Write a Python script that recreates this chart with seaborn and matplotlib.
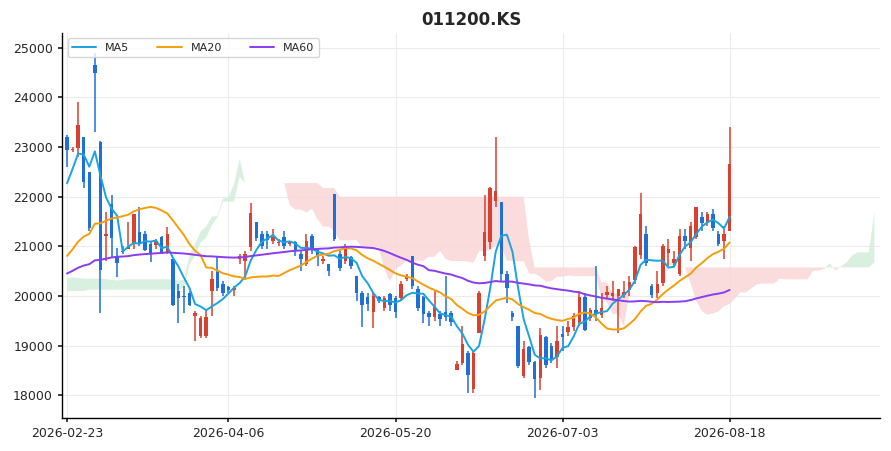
import numpy as np
import pandas as pd
import matplotlib
matplotlib.use("Agg")
import matplotlib.pyplot as plt
import seaborn as sns

# hidden history before the visible window (used only for MAs / Ichimoku)
hist_close = [19800,19700,19650,19750,19850,19700,19600,19750,19850,19900,
 19800,19700,19650,19750,19900,19850,19750,19700,19800,19900,
 19850,19750,19700,19650,19750,19850,19900,19800,19750,19850,
 20550,20500,20450,20400,20350,20450,20500,20550,20450,20400,
 20350,20400,20500,20550,20450,20400,20500,20600,20550,20450,
 20400,20450,20500,20450,20400,20150,20250,20300,20350,20250,
 20200,20300,20350,20250,20300,20400,20350,20250,20200,20300,
 20350,20400,20300,20250,20350,20450,21500,21900,22400,22600]
hist_spread = 250

opens = [23200,22950,22980,23200,22500,24650,23100,21200,21850,20780,
 20920,20950,21060,21290,21250,21050,21020,21190,20860,20740,
 20100,20000,20060,19600,19200,19200,20110,20480,20240,20180,
 20120,20750,20700,20980,21490,21250,21250,21100,21080,21190,
 21050,21080,20840,20640,21200,20920,20700,20640,22050,20840,
 20700,20780,20400,20060,19980,19670,19980,19750,20040,19960,
 19960,20340,20800,20140,19980,19650,19570,19630,19670,19650,
 18510,18650,18850,18120,19250,20800,21080,21910,21890,20440,
 19650,19390,18380,18970,18670,18340,19170,18990,18770,19230,
 19270,19370,19470,19980,19550,19710,19610,20020,20000,20000,
 20020,20120,20320,20820,21250,20200,20060,20260,20860,20660,
 20440,21210,20960,21190,21590,21470,21650,21250,21100,21310]
closes = [22950,22960,23440,22300,21370,24500,20520,21250,21160,20660,
 20900,20990,21650,21060,20920,20860,21100,20860,21250,19810,
 19950,19970,19810,19650,19560,19580,20340,20160,20060,20120,
 20160,20800,20840,21670,21160,21000,21130,21190,21100,21000,
 21080,20920,20740,21100,20920,20780,20750,20500,21150,20560,
 20980,20600,20060,19810,19830,20000,19900,19960,19810,19670,
 20240,20400,20200,19750,19630,19570,19770,19530,19570,19470,
 18630,19030,18400,18850,20060,21290,22170,22110,20440,20160,
 19570,18580,18930,18670,18320,19210,18600,18710,19090,19170,
 19370,19590,19980,19310,19710,19630,19750,20080,20060,20140,
 20080,20280,20980,21650,20660,20020,20240,21000,20940,20740,
 21210,21100,21410,21790,21470,21650,21370,21050,21250,22660]
highs = [23250,23000,23900,23200,22500,24900,23130,21700,22030,20960,
 21000,21500,21650,21800,21300,21100,21150,21200,21390,20740,
 20250,20200,20100,19700,19600,19700,20500,20800,20300,20200,
 20200,20850,20900,21870,21500,21300,21300,21350,21150,21300,
 21100,21100,20900,21250,21250,20950,20800,20650,22050,20900,
 21050,20800,20400,20100,20050,20050,20000,20000,20050,20000,
 20300,20450,20800,20200,20000,19700,20100,19700,20400,19700,
 18700,19400,18900,18900,20100,22030,22200,23200,21900,20500,
 19700,19400,19100,19000,18700,19350,19200,19050,19400,19400,
 19500,19650,20100,20050,19750,20600,20050,20200,20300,20150,
 20300,20400,21000,22070,21400,20250,20500,21050,21150,20900,
 21350,21350,21500,21800,21700,21700,21750,21300,21400,23400]
lows = [22600,22900,22800,22170,21300,23300,19650,20700,20780,20380,
 20850,20950,20950,21000,20900,20680,20950,20850,20850,19800,
 19450,19650,19800,19100,19150,19150,19600,20100,20000,20050,
 20000,20650,20320,20900,21100,20950,20950,21050,21000,20950,
 21000,20800,20500,20600,20850,20600,20650,20400,21100,20500,
 20650,20550,19900,19370,19700,19350,19850,19700,19700,19550,
 19900,20300,20150,19700,19450,19400,19500,19400,19500,19400,
 18500,18600,18050,18050,19250,20700,20950,21800,20300,19850,
 19500,18550,18350,18600,17950,18100,18550,18650,18550,18900,
 19200,19300,19400,19300,19500,19500,19550,19950,19900,19250,
 19950,20000,20250,20750,20600,19950,19950,20200,20600,20600,
 20400,20950,20700,21150,21300,21400,21300,21000,20750,21300]
tick_labels = ["2026-02-23", "2026-04-06", "2026-05-20", "2026-07-03", "2026-08-18"]
tick_index = [0, 29, 59, 89, 119]
title = "011200.KS"

UP = "#d9402f"; DOWN = "#1f6fd6"

n = len(closes); nh = len(hist_close)
hc = np.array(hist_close, float)
full = pd.DataFrame({
    "high": np.concatenate([hc + hist_spread, highs]),
    "low": np.concatenate([hc - hist_spread, lows]),
    "close": np.concatenate([hc, closes]),
})
ma = {k: full["close"].rolling(w).mean().values[nh:] for k, w in [("MA5", 5), ("MA20", 20), ("MA60", 60)]}
tenkan = (full["high"].rolling(9).max() + full["low"].rolling(9).min()) / 2
kijun = (full["high"].rolling(26).max() + full["low"].rolling(26).min()) / 2
spanA = ((tenkan + kijun) / 2).values
spanB = ((full["high"].rolling(52).max() + full["low"].rolling(52).min()) / 2).values
cx = np.arange(-26, n) + 26
idx = np.arange(nh - 26, nh + n)
A = spanA[idx]; B = spanB[idx]

sns.set_theme(style="whitegrid")
plt.rcParams["font.family"] = ["DejaVu Sans"]
fig = plt.figure(figsize=(8.91, 4.51), dpi=100)
ax = fig.add_axes([0.0696, 0.073, 0.918, 0.854])

ax.fill_between(cx, A, B, where=A >= B, interpolate=True, color="#d3eedb", alpha=0.85, lw=0, zorder=1)
ax.fill_between(cx, A, B, where=A < B, interpolate=True, color="#fbd6d8", alpha=0.85, lw=0, zorder=1)

x = np.arange(n)
o = np.array(opens); c = np.array(closes)
col = np.where(c >= o, UP, DOWN)
ax.vlines(x, lows, highs, colors=col, lw=1.1, zorder=3)
body = np.maximum(np.abs(c - o), 25)
bottom = np.minimum(o, c) - np.where(np.abs(c - o) < 25, 12, 0)
ax.bar(x, body, bottom=bottom, width=0.62, color=col, lw=0, zorder=4)

df = pd.DataFrame({"x": x, **ma})
sns.lineplot(data=df, x="x", y="MA5", ax=ax, color="#1aa3e0", lw=1.4, label="MA5", zorder=5)
sns.lineplot(data=df, x="x", y="MA20", ax=ax, color="#f59e0b", lw=1.4, label="MA20", zorder=5)
sns.lineplot(data=df, x="x", y="MA60", ax=ax, color="#8b3cf0", lw=1.4, label="MA60", zorder=5)

ax.set_xlim(-0.9, 146)
ax.set_ylim(17540, 25300)
ax.set_xticks(tick_index)
ax.set_xticklabels(tick_labels, fontsize=9)
ax.set_yticks(range(18000, 25001, 1000))
ax.tick_params(axis="y", labelsize=9, length=3, left=True)
ax.tick_params(axis="x", length=3, bottom=True)
ax.set_xlabel(""); ax.set_ylabel("")
ax.grid(True, color="#ececec", lw=0.8)
ax.set_facecolor("white")
for s in ["top", "right"]:
    ax.spines[s].set_visible(False)
for s in ["left", "bottom"]:
    ax.spines[s].set_color("black"); ax.spines[s].set_linewidth(1)
ax.set_title(title, fontsize=12, fontweight="bold")
ax.legend(loc="upper left", ncol=3, fontsize=8, frameon=True, handlelength=2.2, columnspacing=2.5)
fig.savefig("out.png", dpi=100)
